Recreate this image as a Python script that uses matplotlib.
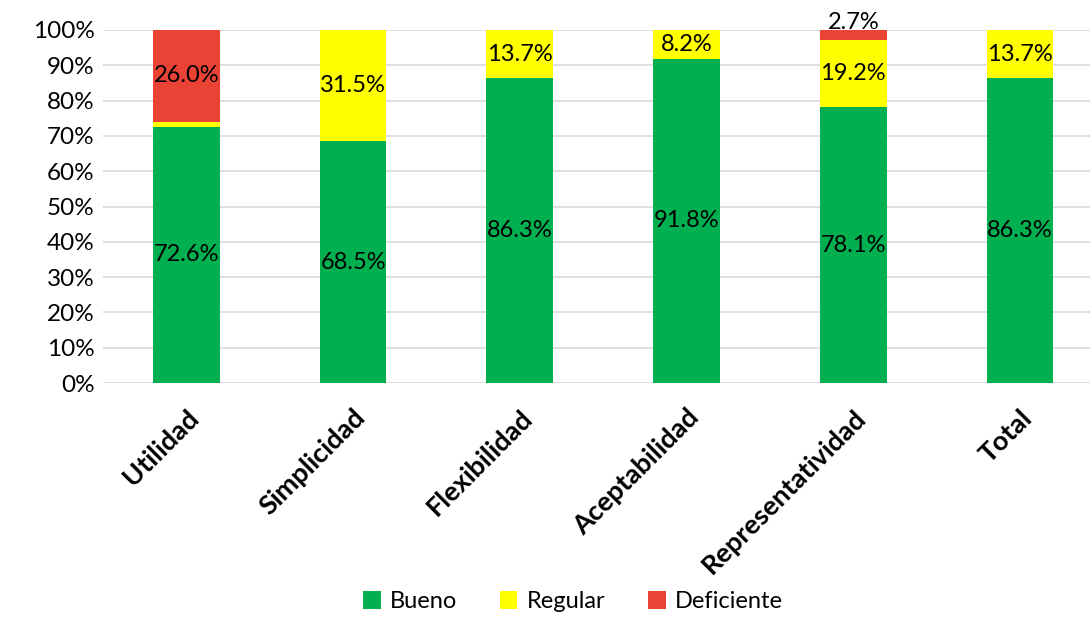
import numpy as np
import matplotlib.pyplot as plt

plt.rcParams['font.family'] = ['Lato', 'DejaVu Sans']

categorias = ["Utilidad", "Simplicidad", "Flexibilidad", "Aceptabilidad",
              "Representatividad", "Total"]
bueno = [72.6, 68.5, 86.3, 91.8, 78.1, 86.3]
regular = [1.4, 31.5, 13.7, 8.2, 19.2, 13.7]
deficiente = [26.0, 0.0, 0.0, 0.0, 2.7, 0.0]

series = [("Bueno", bueno, "#00B050"),
          ("Regular", regular, "#FFFF00"),
          ("Deficiente", deficiente, "#EA4335")]

fig = plt.figure(figsize=(10.9, 6.21), dpi=100)
ax = fig.add_axes([103 / 1090, 1 - 383 / 621, 987 / 1090, 353 / 621])

x = np.arange(len(categorias))
base = np.zeros(len(categorias))
for nombre, vals, color in series:
    vals = np.array(vals)
    ax.bar(x, vals, 0.4, bottom=base, color=color, label=nombre, zorder=2)
    for xi, b, v in zip(x, base, vals):
        if v < 2:
            continue
        if v < 4:
            # small segment: label sits just above the bar
            ax.text(xi, b + v - 0.8, f"{v:.1f}%", ha='center', va='bottom',
                    fontsize=17, color='black', zorder=3)
        else:
            ax.text(xi, b + v / 2, f"{v:.1f}%", ha='center', va='center',
                    fontsize=17, color='black', zorder=3)
    base = base + vals

ax.set_ylim(0, 100)
ax.set_xlim(-0.5, 5.42)
ax.set_yticks(np.arange(0, 101, 10))
ax.set_yticklabels([f"{v}%" for v in range(0, 101, 10)], fontsize=17.5)
ax.set_xticks(x)
ax.set_xticklabels(categorias, rotation=45, ha='right', rotation_mode='anchor',
                   fontsize=19.5, fontweight='bold')
ax.tick_params(axis='both', length=0, pad=6)
ax.tick_params(axis='x', pad=16)
ax.yaxis.grid(True, color='#D9D9D9', linewidth=1.2, zorder=0)
ax.set_axisbelow(True)
for s in ax.spines.values():
    s.set_visible(False)

fig.legend(loc='lower center', bbox_to_anchor=(573 / 1090, -0.02), ncol=3,
           frameon=False, fontsize=17, handlelength=0.75, handleheight=0.75,
           columnspacing=1.8, handletextpad=0.4)

fig.savefig("out.png", dpi=100)
